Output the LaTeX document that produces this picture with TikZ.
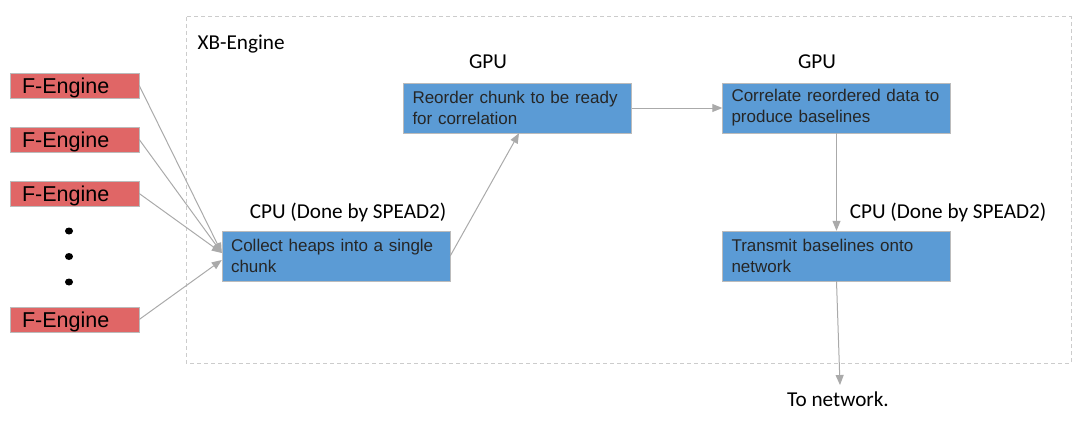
\documentclass[tikz,border=0pt]{standalone}
\usepackage{fontspec}
\setmainfont{Liberation Sans}
\newfontfamily\calibri{Carlito}
\usetikzlibrary{arrows.meta,positioning}
\definecolor{fred}{HTML}{E06666}
\definecolor{stageblue}{HTML}{5B9BD5}
\definecolor{edgegray}{HTML}{BBBBBB}
\definecolor{linkgray}{HTML}{AAAAAA}
\definecolor{framegray}{HTML}{CCCCCC}
\tikzset{
  fengine/.style={draw=edgegray,fill=fred,minimum width=129pt,minimum height=25pt,
    inner xsep=12pt,inner ysep=0pt,text width=105pt,align=left,
    text height=16pt,text depth=0pt,
    font=\fontsize{21.5}{24}\selectfont},
  stagebox/.style={draw=edgegray,fill=stageblue,minimum width=228pt,minimum height=50pt,
    inner xsep=9pt,text width=210pt,align=left,text=black!85,
    font=\fontsize{17}{21}\selectfont},
  unitlabel/.style={font=\calibri\fontsize{21.2}{25}\selectfont},
  bigdot/.style={ellipse,fill=black,inner sep=0pt,minimum width=8pt,minimum height=7pt},
  link/.style={draw=linkgray,line width=1pt,-{Triangle[length=10pt,width=8pt]}}
}
\usetikzlibrary{shapes.geometric}
\begin{document}
\begin{tikzpicture}[x=1pt,y=-1pt]
  \useasboundingbox (0,0) rectangle (1087,436);
  % XB-Engine frame
  \draw[framegray,line width=1pt,dash pattern=on 4pt off 3pt] (186,17) rectangle (1071,363);
  \node[unitlabel,anchor=west] (xblabel) at (194,44) {XB-Engine};

  % F-Engines
  \node[fengine] (f1) at (74.5,85.5) {F-Engine};
  \node[fengine] (f2) at (74.5,139.5) {F-Engine};
  \node[fengine] (f3) at (74.5,193.5) {F-Engine};
  \node[fengine] (f4) at (74.5,319.5) {F-Engine};
  \node[bigdot] (d1) at (69,231) {};
  \node[bigdot] (d2) at (69,256.5) {};
  \node[bigdot] (d3) at (69,282) {};

  % processing stages
  \node[stagebox] (collect) at (336,256) {Collect heaps into a single\\chunk};
  \node[stagebox] (reorder) at (517.5,108) {Reorder chunk to be ready\\for correlation};
  \node[stagebox] (correlate) at (836.5,108) {Correlate reordered data to\\produce baselines};
  \node[stagebox] (transmit) at (836.5,256) {Transmit baselines onto\\network};

  \node[unitlabel] (cpu1) at (348,212) {CPU (Done by SPEAD2)};
  \node[unitlabel] (gpu1) at (488,62) {GPU};
  \node[unitlabel] (gpu2) at (817,62) {GPU};
  \node[unitlabel] (cpu2) at (948,212) {CPU (Done by SPEAD2)};
  \node[unitlabel] (tonet) at (838,399) {To network.};

  % connectors
  \draw[link] (f1.east) -- ([yshift=3pt]collect.west);
  \draw[link] (f2.east) -- ([yshift=3pt]collect.west);
  \draw[link] (f3.east) -- ([yshift=3pt]collect.west);
  \draw[link] (f4.east) -- ([yshift=-4pt]collect.west);
  \draw[link] (collect.east) -- ([xshift=1.5pt]reorder.south);
  \draw[link] (reorder.east) -- (correlate.west);
  \draw[link] (correlate.south) -- (transmit.north);
  \draw[link] (transmit.south) -- ([xshift=2pt,yshift=3pt]tonet.north);
\end{tikzpicture}
\end{document}
